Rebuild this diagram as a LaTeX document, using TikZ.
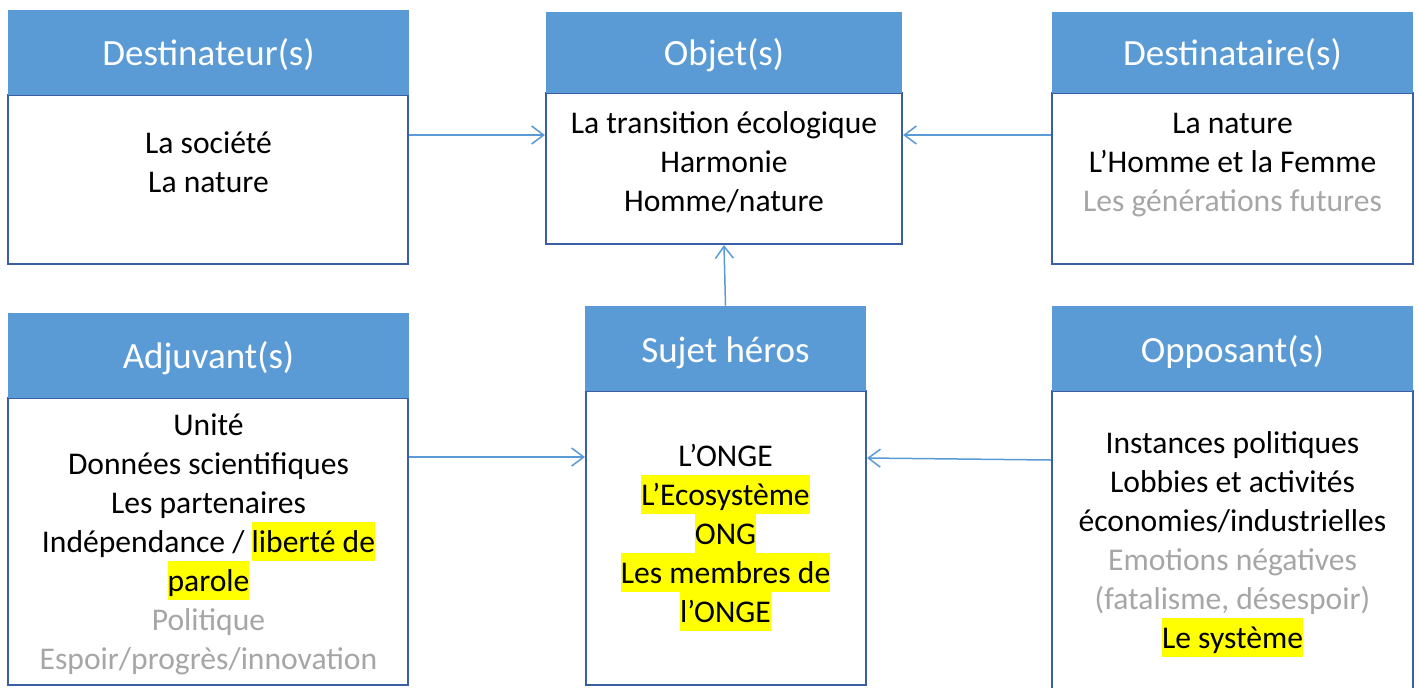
\documentclass[tikz,border=0pt]{standalone}
\usepackage{fontspec}
\setmainfont{Carlito}
\usetikzlibrary{arrows.meta,fit}
\definecolor{hdr}{HTML}{5B9BD5}
\definecolor{edgeblue}{HTML}{3A5FA6}
\definecolor{greytext}{HTML}{A6A6A6}
\definecolor{hly}{HTML}{FFFF00}
\newcommand\lstrut{\rule[-4.5pt]{0pt}{19.5pt}}
\newcommand\hlt[1]{{\setlength{\fboxsep}{0pt}\colorbox{hly}{\lstrut #1}}}
\newcommand\gry[1]{\textcolor{greytext}{#1}}
\begin{document}
\begin{tikzpicture}[x=0.5pt,y=-0.5pt,
  bodybox/.style={rectangle, draw=edgeblue, line width=1.1pt, fill=white, inner sep=0pt},
  headbox/.style={rectangle, fill=hdr, draw=none, inner sep=0pt},
  headtext/.style={text=white, anchor=base, inner sep=0pt, font=\fontsize{18.5}{22}\selectfont},
  bodytext/.style={align=center, anchor=north, inner sep=0pt, font=\fontsize{15.8}{19.5}\selectfont},
  conn/.style={draw=hdr, line width=0.75pt, -{Straight Barb[length=6pt,width=9pt]}}]
\useasboundingbox (0,0) rectangle (1419,687);
\fill[white] (0,0) rectangle (1419,687);

% Destinateur(s)
\node[bodybox, fit={(8,95) (408,264)}] (b1) {};
\node[headbox, fit={(8,10) (409,95)}] (h1) {};
\node[headtext] (l1) at (208.5,65) {Destinateur(s)};
\node[bodytext] (t1) at (208.5,123) {\lstrut La société\\\lstrut La nature};

% Objet(s)
\node[bodybox, fit={(546,93) (902,244)}] (b2) {};
\node[headbox, fit={(546,12) (902,93)}] (h2) {};
\node[headtext] (l2) at (724,65) {Objet(s)};
\node[bodytext] (t2) at (724,103) {\lstrut La transition écologique\\\lstrut Harmonie\\\lstrut Homme/nature};

% Destinataire(s)
\node[bodybox, fit={(1052,93) (1413,264)}] (b3) {};
\node[headbox, fit={(1052,12) (1413,93)}] (h3) {};
\node[headtext] (l3) at (1232.5,65) {Destinataire(s)};
\node[bodytext] (t3) at (1232.5,103) {\lstrut La nature\\\lstrut L’Homme et la Femme\\\lstrut\gry{Les générations futures}};

% Adjuvant(s)
\node[bodybox, fit={(8,398) (408,685)}] (b4) {};
\node[headbox, fit={(8,313) (409,398)}] (h4) {};
\node[headtext] (l4) at (208.5,368) {Adjuvant(s)};
\node[bodytext] (t4) at (208.5,405) {\lstrut Unité\\\lstrut Données scientifiques\\\lstrut Les partenaires\\\lstrut Indépendance / \hlt{liberté de}\\\hlt{parole}\\\lstrut\gry{Politique}\\\lstrut\gry{Espoir/progrès/innovation}};

% Sujet héros
\node[bodybox, fit={(586,391) (866,685)}] (b5) {};
\node[headbox, fit={(585,306) (866,391)}] (h5) {};
\node[headtext] (l5) at (725.5,362) {Sujet héros};
\node[bodytext] (t5) at (725.5,436) {\lstrut L’ONGE\\\hlt{L’Ecosystème}\\\hlt{ONG}\\\hlt{Les membres de}\\\hlt{l’ONGE}};

% Opposant(s)
\node[bodybox, fit={(1052,391) (1413,695)}] (b6) {};
\node[headbox, fit={(1052,306) (1413,391)}] (h6) {};
\node[headtext] (l6) at (1232.5,362) {Opposant(s)};
\node[bodytext] (t6) at (1232.5,423) {\lstrut Instances politiques\\\lstrut Lobbies et activités\\\lstrut économies/industrielles\\\lstrut\gry{Emotions négatives}\\\lstrut\gry{(fatalisme, désespoir)}\\\hlt{Le système}};

% connectors
\draw[conn] (b1.east |- 0,135) -- (b2.west |- 0,135);
\draw[conn] (b3.west |- 0,135) -- (b2.east |- 0,135);
\draw[conn] (h5.north) -- (b2.south);
\draw[conn] (b4.east |- 0,457) -- (b5.west |- 0,457);
\draw[conn] (b6.west |- 0,460) -- (b5.east |- 0,458);
\end{tikzpicture}
\end{document}
